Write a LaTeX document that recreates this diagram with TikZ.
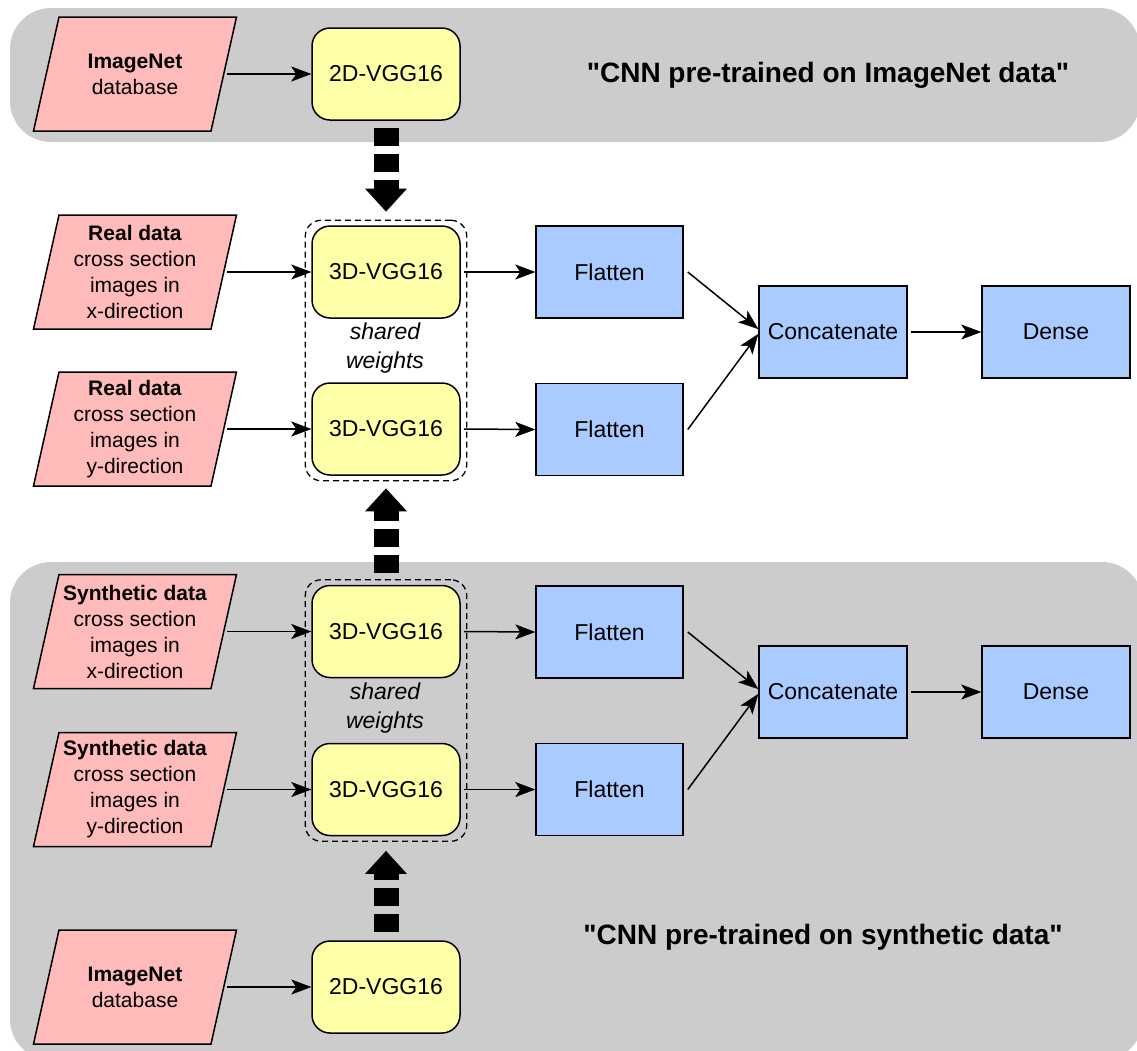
\documentclass[tikz,border=0pt]{standalone}
\usepackage{fontspec}
\setmainfont{Liberation Sans}[Ligatures=TeXOff]
\usetikzlibrary{arrows.meta,fit}
\definecolor{panelgray}{HTML}{CCCCCC}
\definecolor{pinkc}{HTML}{FFBABA}
\definecolor{yellowc}{HTML}{FFFFA8}
\definecolor{bluec}{HTML}{A9CBFF}
\begin{document}
\begin{tikzpicture}[x=1pt,y=-1pt,
  panel/.style={rectangle, fill=panelgray, rounded corners=41pt, inner sep=0},
  para/.style={rectangle, minimum width=206, minimum height=117, inner sep=0, align=center,
    font=\fontsize{21}{26}\selectfont,
    path picture={\filldraw[fill=pinkc, draw=black, line width=1.5pt]
      ([xshift=27pt,yshift=-1.5pt]path picture bounding box.north west) --
      ([xshift=-1.5pt,yshift=-1.5pt]path picture bounding box.north east) --
      ([xshift=-27pt,yshift=1.5pt]path picture bounding box.south east) --
      ([xshift=1.5pt,yshift=1.5pt]path picture bounding box.south west) -- cycle;}},
  vgg/.style={rectangle, rounded corners=18pt, fill=yellowc, draw=black, line width=1.5pt,
    minimum width=148, minimum height=92, inner sep=0, font=\fontsize{23}{28}\selectfont},
  blk/.style={rectangle, fill=bluec, draw=black, line width=1.5pt,
    minimum width=148, minimum height=92, inner sep=0, font=\fontsize{23}{28}\selectfont},
  dbox/.style={draw=black, line width=1.3pt, dash pattern=on 6pt off 4pt, rounded corners=16pt,
    inner xsep=6, inner ysep=5},
  conn/.style={line width=1.5pt, -{Stealth[length=20pt,width=15pt,inset=5pt,line width=0.5pt]}},
  fat/.style={line width=25pt, dash pattern=on 18pt off 8pt,
    -{Triangle[width=42pt,length=23pt,line width=0pt]}},
  title/.style={font=\bfseries\fontsize{28}{34}\selectfont},
  sw/.style={font=\itshape\fontsize{23}{29}\selectfont, align=center, inner sep=0}
]
\useasboundingbox (0,0) rectangle (1137,1050);
\clip (0,0) rectangle (1137,1050);

% background panels
\node[panel, minimum width=1130, minimum height=134] (toppanel) at (575,75) {};
\node[panel, minimum width=1133, minimum height=498] (botpanel) at (576.5,811) {};

% titles
\node[title] (ttop) at (828,75) {"CNN pre-trained on ImageNet data"};
\node[title] (tbot) at (823,937) {"CNN pre-trained on synthetic data"};

% inputs
\node[para] (tin) at (135,74) {\textbf{ImageNet}\\database};
\node[para] (rx) at (135,272) {\textbf{Real data}\\cross section\\images in\\x-direction};
\node[para] (ry) at (135,429) {\textbf{Real data}\\cross section\\images in\\y-direction};
\node[para] (sx) at (135,631.5) {\textbf{Synthetic data}\\cross section\\images in\\x-direction};
\node[para] (sy) at (135,789.5) {\textbf{Synthetic data}\\cross section\\images in\\y-direction};
\node[para] (bin) at (135,987) {\textbf{ImageNet}\\database};

% VGG blocks
\node[vgg] (t2d) at (386,74) {2D-VGG16};
\node[vgg] (rx3) at (386,272) {3D-VGG16};
\node[vgg] (ry3) at (386,429) {3D-VGG16};
\node[vgg] (sx3) at (386,631.5) {3D-VGG16};
\node[vgg] (sy3) at (386,789.5) {3D-VGG16};
\node[vgg] (b2d) at (386,987) {2D-VGG16};

% shared weight boxes
\node[dbox, fit=(rx3)(ry3)] (rbox) {};
\node[dbox, fit=(sx3)(sy3)] (sbox) {};
\node[sw] (rsw) at (385,348.5) {shared\\weights};
\node[sw] (ssw) at (385,708.5) {shared\\weights};

% blue blocks
\node[blk, minimum width=147] (rxf) at (609.5,272) {Flatten};
\node[blk, minimum width=147] (ryf) at (609.5,429.5) {Flatten};
\node[blk] (rc) at (833,332) {Concatenate};
\node[blk] (rd) at (1056,332) {Dense};
\node[blk, minimum width=147] (sxf) at (609.5,632) {Flatten};
\node[blk, minimum width=147] (syf) at (609.5,789.5) {Flatten};
\node[blk] (sc) at (833,692) {Concatenate};
\node[blk] (sd) at (1056,692) {Dense};

% thin connectors
\draw[conn] ([xshift=-11pt]tin.east) -- (t2d.west);
\draw[conn] ([xshift=-11pt]rx.east) -- (rx3.west);
\draw[conn] ([xshift=-11pt]ry.east) -- (ry3.west);
\draw[conn] ([xshift=-11pt]sx.east) -- (sx3.west);
\draw[conn] ([xshift=-11pt]sy.east) -- (sy3.west);
\draw[conn] ([xshift=-11pt]bin.east) -- (b2d.west);

\draw[conn] ([xshift=3pt]rx3.east) -- (rxf.west);
\draw[conn] ([xshift=3pt]ry3.east) -- (ryf.west);
\draw[conn] ([xshift=3pt]sx3.east) -- (sxf.west);
\draw[conn] ([xshift=3pt]sy3.east) -- (syf.west);

\draw[conn] ([xshift=4pt]rxf.east) -- ([yshift=3pt]rc.west);
\draw[conn] ([xshift=4pt]ryf.east) -- ([yshift=-2pt]rc.west);
\draw[conn] ([xshift=4pt]sxf.east) -- ([yshift=3pt]sc.west);
\draw[conn] ([xshift=4pt]syf.east) -- ([yshift=-2pt]sc.west);

\draw[conn] ([xshift=3pt]rc.east) -- (rd.west);
\draw[conn] ([xshift=3pt]sc.east) -- (sd.west);

% fat dashed arrows
\draw[fat] ([yshift=-7pt]t2d.south) -- ([yshift=8pt]rbox.north);
\draw[fat] ([yshift=6pt]sbox.north) -- ([yshift=-7pt]rbox.south);
\draw[fat] ([yshift=8pt]b2d.north) -- ([yshift=-9pt]sbox.south);
\end{tikzpicture}
\end{document}
